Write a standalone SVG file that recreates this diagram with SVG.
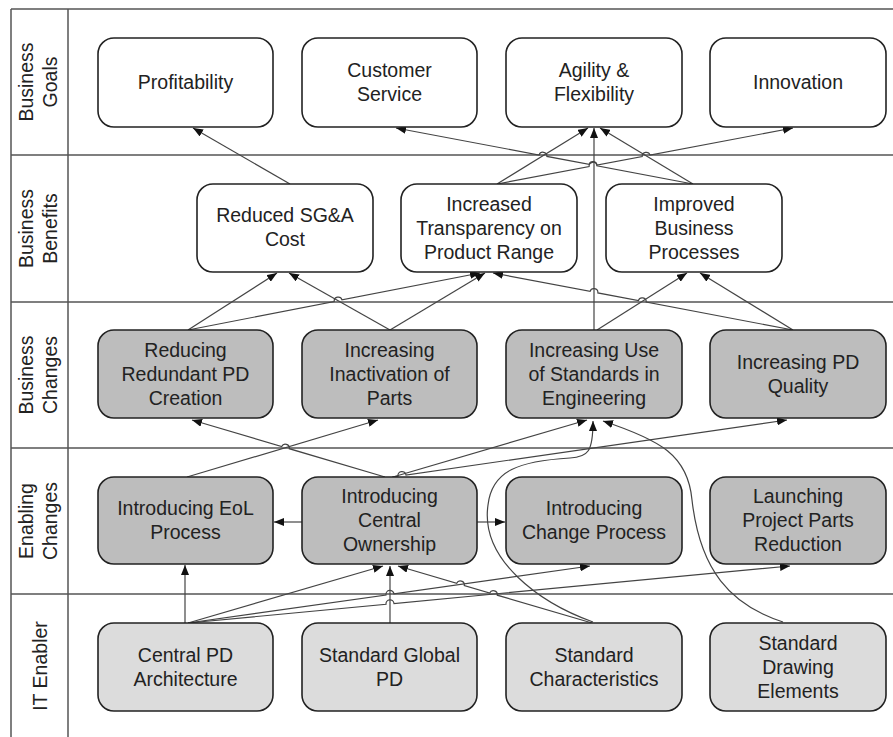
<svg xmlns="http://www.w3.org/2000/svg" width="893" height="737" viewBox="0 0 893 737">
<style>
.lane{stroke:#555;stroke-width:1.5;fill:none}
.box{stroke:#222;stroke-width:1.6}
.w{fill:#fff}.d{fill:#bdbdbd}.l{fill:#dcdcdc}
text{font-family:"Liberation Sans",Arial,sans-serif;font-size:19.5px;fill:#222;text-anchor:middle}
.c{fill:none;stroke:#444;stroke-width:1.2;marker-end:url(#ah)}
</style>
<defs>
<marker id="ah" viewBox="0 0 10 8" refX="10" refY="4" markerWidth="10" markerHeight="8" markerUnits="userSpaceOnUse" orient="auto"><path d="M0,0 L10,4 L0,8 z" fill="#111"/></marker>
</defs>
<rect width="893" height="737" fill="#fff"/>
<g id="lanes">
<path class="lane" d="M11 9H893M11 155H893M11 302H893M11 448H893M11 594H893M11 9V737M68 9V737"/>
<text transform="translate(40,82) rotate(-90)"><tspan x="0" y="-7">Business</tspan><tspan x="0" y="17">Goals</tspan></text>
<text transform="translate(40,228.5) rotate(-90)"><tspan x="0" y="-7">Business</tspan><tspan x="0" y="17">Benefits</tspan></text>
<text transform="translate(40,375) rotate(-90)"><tspan x="0" y="-7">Business</tspan><tspan x="0" y="17">Changes</tspan></text>
<text transform="translate(40,521) rotate(-90)"><tspan x="0" y="-7">Enabling</tspan><tspan x="0" y="17">Changes</tspan></text>
<text transform="translate(40,666) rotate(-90)"><tspan x="0" y="7">IT Enabler</tspan></text>
</g>
<g id="connectors">
<path class="c" d="M290 184L193 128"/>
<path class="c" d="M693 184L596.9 165.8A4 4 0 0 0 589.1 164.4L546.9 156.4A4 4 0 0 0 539.1 155L396 128"/>
<path class="c" d="M693 184L600 128"/>
<path class="c" d="M497 184L588 128"/>
<path class="c" d="M497 184L589.1 166.5A4 4 0 0 1 596.9 165L642.2 156.5A4 4 0 0 1 650 155.1L793 128"/>
<path class="c" d="M594 330L594 128"/>
<path class="c" d="M188 330L277 273"/>
<path class="c" d="M188 330L334.2 301.5A4 4 0 0 1 342 299.9L480 273"/>
<path class="c" d="M390 330L289 273"/>
<path class="c" d="M390 330L485 273"/>
<path class="c" d="M597 330L687 273"/>
<path class="c" d="M793 330L646.2 302.1A4 4 0 0 0 638.4 300.6L597.9 292.9A4 4 0 0 0 590.1 291.4L493 273"/>
<path class="c" d="M793 330L700 273"/>
<path class="c" d="M187 477L378 420"/>
<path class="c" d="M385 477L289.3 448.7A4 4 0 0 0 281.7 446.5L192 420"/>
<path class="c" d="M393 477L587 420"/>
<path class="c" d="M392 477L398 476.2A4 4 0 0 1 406 475L787 420"/>
<path class="c" d="M593 622C540 603 480 560 488 505C492 470 520 461 570 458C588 457 593 452 593 421"/>
<path class="c" d="M783 622C730 605 700 570 692 500C688 455 660 440 603 421"/>
<path class="c" d="M302 522L274 522"/>
<path class="c" d="M477 522L505 522"/>
<path class="c" d="M185 623L185 565"/>
<path class="c" d="M188 623L383 566"/>
<path class="c" d="M188 623L386 595A4 4 0 0 1 394 593.8L590 566"/>
<path class="c" d="M188 623L386 604.3A4 4 0 0 1 394 603.5L790 566"/>
<path class="c" d="M390 623L390 566"/>
<path class="c" d="M592 623L497.3 595.2A4 4 0 0 0 489.7 593L464.3 585.5A4 4 0 0 0 456.7 583.3L398 566"/>
</g>
<g id="n-profitability"><rect class="box w" x="98" y="38" width="175" height="89" rx="16"/><text x="185.5" y="89">Profitability</text></g>
<g id="n-customer-service"><rect class="box w" x="302" y="38" width="175" height="89" rx="16"/><text x="389.5" y="77">Customer</text><text x="389.5" y="101">Service</text></g>
<g id="n-agility"><rect class="box w" x="506" y="38" width="176" height="89" rx="16"/><text x="594" y="77">Agility &amp;</text><text x="594" y="101">Flexibility</text></g>
<g id="n-innovation"><rect class="box w" x="710" y="38" width="176" height="89" rx="16"/><text x="798" y="89">Innovation</text></g>
<g id="n-sga"><rect class="box w" x="197" y="184" width="176" height="88" rx="16"/><text x="285" y="222">Reduced SG&amp;A</text><text x="285" y="246">Cost</text></g>
<g id="n-transparency"><rect class="box w" x="401" y="184" width="176" height="88" rx="16"/><text x="489" y="211">Increased</text><text x="489" y="235">Transparency on</text><text x="489" y="259">Product Range</text></g>
<g id="n-improved"><rect class="box w" x="606" y="184" width="176" height="88" rx="16"/><text x="694" y="211">Improved</text><text x="694" y="235">Business</text><text x="694" y="259">Processes</text></g>
<g id="n-redundant"><rect class="box d" x="98" y="330" width="175" height="88" rx="16"/><text x="185.5" y="357">Reducing</text><text x="185.5" y="381">Redundant PD</text><text x="185.5" y="405">Creation</text></g>
<g id="n-inactivation"><rect class="box d" x="302" y="330" width="175" height="88" rx="16"/><text x="389.5" y="357">Increasing</text><text x="389.5" y="381">Inactivation of</text><text x="389.5" y="405">Parts</text></g>
<g id="n-standards-use"><rect class="box d" x="506" y="330" width="176" height="88" rx="16"/><text x="594" y="357">Increasing Use</text><text x="594" y="381">of Standards in</text><text x="594" y="405">Engineering</text></g>
<g id="n-pd-quality"><rect class="box d" x="710" y="330" width="176" height="88" rx="16"/><text x="798" y="369">Increasing PD</text><text x="798" y="393">Quality</text></g>
<g id="n-eol"><rect class="box d" x="98" y="477" width="175" height="87" rx="16"/><text x="185.5" y="515">Introducing EoL</text><text x="185.5" y="539">Process</text></g>
<g id="n-ownership"><rect class="box d" x="302" y="477" width="175" height="87" rx="16"/><text x="389.5" y="503">Introducing</text><text x="389.5" y="527">Central</text><text x="389.5" y="551">Ownership</text></g>
<g id="n-change"><rect class="box d" x="506" y="477" width="176" height="87" rx="16"/><text x="594" y="515">Introducing</text><text x="594" y="539">Change Process</text></g>
<g id="n-launching"><rect class="box d" x="710" y="477" width="176" height="87" rx="16"/><text x="798" y="503">Launching</text><text x="798" y="527">Project Parts</text><text x="798" y="551">Reduction</text></g>
<g id="n-central-pd"><rect class="box l" x="98" y="623" width="175" height="88" rx="16"/><text x="185.5" y="662">Central PD</text><text x="185.5" y="686">Architecture</text></g>
<g id="n-global-pd"><rect class="box l" x="302" y="623" width="175" height="88" rx="16"/><text x="389.5" y="662">Standard Global</text><text x="389.5" y="686">PD</text></g>
<g id="n-characteristics"><rect class="box l" x="506" y="623" width="176" height="88" rx="16"/><text x="594" y="662">Standard</text><text x="594" y="686">Characteristics</text></g>
<g id="n-drawing"><rect class="box l" x="710" y="623" width="176" height="88" rx="16"/><text x="798" y="650">Standard</text><text x="798" y="674">Drawing</text><text x="798" y="698">Elements</text></g>
</svg>
